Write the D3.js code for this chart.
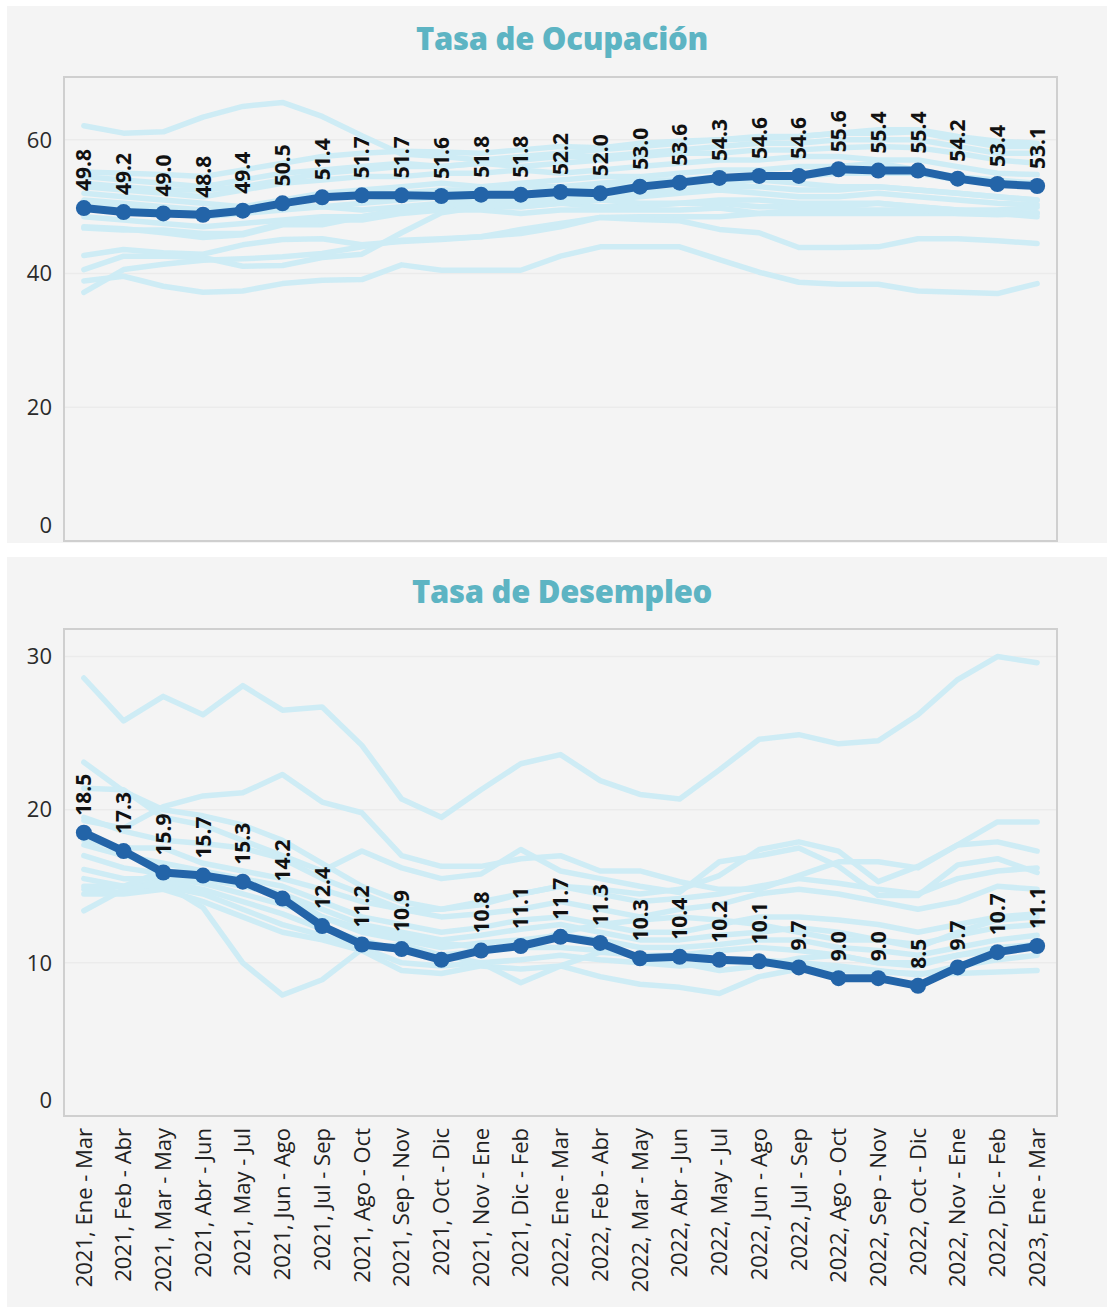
<!DOCTYPE html>
<html>
<head>
<meta charset="utf-8">
<script src="https://cdn.jsdelivr.net/npm/d3@7"></script>
<style>
  body { margin: 0; background: #fff; }
  svg { display: block; }
</style>
</head>
<body>
<div id="contents"></div>
<script>
const periods = [
  "2021, Ene - Mar", "2021, Feb - Abr", "2021, Mar - May", "2021, Abr - Jun",
  "2021, May - Jul", "2021, Jun - Ago", "2021, Jul - Sep", "2021, Ago - Oct",
  "2021, Sep - Nov", "2021, Oct - Dic", "2021, Nov - Ene", "2021, Dic - Feb",
  "2022, Ene - Mar", "2022, Feb - Abr", "2022, Mar - May", "2022, Abr - Jun",
  "2022, May - Jul", "2022, Jun - Ago", "2022, Jul - Sep", "2022, Ago - Oct",
  "2022, Sep - Nov", "2022, Oct - Dic", "2022, Nov - Ene", "2022, Dic - Feb",
  "2023, Ene - Mar"
];

// highlighted series
const ocupacion = [49.8, 49.2, 49.0, 48.8, 49.4, 50.5, 51.4, 51.7, 51.7, 51.6, 51.8, 51.8, 52.2,
  52.0, 53.0, 53.6, 54.3, 54.6, 54.6, 55.6, 55.4, 55.4, 54.2, 53.4, 53.1];
const desempleo = [18.5, 17.3, 15.9, 15.7, 15.3, 14.2, 12.4, 11.2, 10.9, 10.2, 10.8, 11.1, 11.7,
  11.3, 10.3, 10.4, 10.2, 10.1, 9.7, 9.0, 9.0, 8.5, 9.7, 10.7, 11.1];
// value labels (one is not shown in the original)
const desempleoLabels = ["18.5", "17.3", "15.9", "15.7", "15.3", "14.2", "12.4", "11.2", "10.9", "",
  "10.8", "11.1", "11.7", "11.3", "10.3", "10.4", "10.2", "10.1", "9.7", "9.0", "9.0", "8.5", "9.7", "10.7", "11.1"];

// background series (other areas)
const ocupacionOtros = [
  [62.1, 61.0, 61.2, 63.4, 65.0, 65.6, 63.5, 60.6, 57.9, 57.5, 57.0, 57.5, 58.0, 58.5, 59.0, 59.5, 60.0, 60.5, 60.5, 61.0, 61.5, 61.5, 60.5, 59.8, 59.5],
  [55.2, 55.0, 54.8, 54.5, 55.5, 56.5, 57.5, 58.0, 58.3, 58.2, 58.0, 58.5, 59.0, 58.8, 59.5, 59.8, 60.0, 60.2, 60.5, 61.0, 61.0, 61.2, 60.0, 59.0, 59.0],
  [54.5, 54.0, 53.5, 53.0, 54.0, 55.0, 55.5, 56.0, 56.5, 56.0, 56.5, 56.0, 56.5, 57.0, 57.5, 58.0, 58.0, 58.5, 58.5, 58.8, 59.0, 58.8, 58.0, 57.0, 56.5],
  [53.5, 53.0, 52.5, 52.5, 53.0, 54.0, 55.0, 55.5, 56.0, 56.0, 56.5, 57.0, 57.5, 57.5, 58.0, 58.5, 59.0, 59.5, 59.5, 60.0, 60.0, 60.0, 59.0, 58.0, 58.0],
  [53.0, 52.5, 52.0, 51.5, 52.5, 53.5, 54.0, 54.5, 54.5, 55.0, 55.0, 55.5, 55.0, 55.5, 56.0, 56.5, 57.0, 57.0, 57.5, 57.5, 57.0, 57.0, 56.0, 55.0, 54.8],
  [52.0, 51.5, 51.0, 50.5, 50.0, 51.0, 52.0, 52.5, 53.0, 53.5, 53.0, 53.5, 54.0, 54.5, 54.5, 55.0, 55.5, 55.5, 56.0, 56.0, 56.5, 55.5, 54.5, 54.0, 53.5],
  [51.0, 50.5, 50.0, 49.5, 50.0, 50.5, 50.0, 50.5, 51.0, 51.5, 52.0, 52.0, 52.5, 53.0, 53.0, 53.5, 53.5, 54.0, 53.5, 53.0, 53.0, 52.5, 52.0, 51.5, 51.0],
  [50.5, 50.0, 49.0, 48.5, 49.0, 49.5, 50.0, 49.5, 50.0, 50.5, 51.0, 51.0, 51.5, 51.0, 51.5, 52.0, 52.5, 52.0, 51.5, 51.5, 52.0, 51.5, 51.0, 50.5, 50.3],
  [50.0, 49.5, 49.5, 49.0, 49.5, 50.5, 51.5, 52.0, 52.0, 52.5, 52.5, 53.0, 53.0, 53.5, 54.0, 54.0, 54.5, 54.5, 54.5, 55.0, 55.0, 55.0, 54.0, 53.5, 53.0],
  [48.5, 48.0, 47.5, 47.0, 47.5, 48.0, 48.5, 48.5, 49.5, 50.0, 50.5, 50.0, 50.5, 50.0, 50.0, 50.5, 50.5, 50.0, 50.0, 50.0, 50.5, 50.0, 49.5, 49.5, 49.9],
  [47.0, 46.7, 46.1, 45.4, 45.8, 47.3, 47.3, 48.5, 49.5, 49.5, 50.0, 50.0, 50.5, 51.0, 50.5, 50.5, 51.0, 51.0, 50.5, 50.5, 50.5, 50.0, 49.5, 49.0, 48.5],
  [46.8, 46.5, 46.5, 46.0, 46.0, 47.5, 48.0, 48.0, 49.0, 49.5, 49.5, 49.0, 49.5, 49.5, 49.5, 49.5, 49.8, 49.0, 49.0, 49.0, 49.0, 49.0, 49.0, 49.0, 49.1],
  [42.7, 43.6, 43.1, 42.9, 44.3, 45.1, 45.2, 44.3, 44.8, 45.1, 45.5, 46.6, 47.5, 48.4, 48.5, 48.5, 48.5, 49.0, 49.5, 49.5, 49.5, 49.5, 49.0, 48.8, 49.0],
  [40.6, 42.6, 42.6, 42.4, 41.1, 41.2, 42.4, 42.9, 46.1, 49.1, 50.0, 50.5, 51.0, 52.0, 52.0, 52.5, 53.0, 53.0, 52.5, 52.5, 53.0, 52.5, 52.0, 51.5, 51.0],
  [37.2, 40.6, 41.4, 42.0, 42.2, 42.5, 43.0, 44.0, 45.0, 45.2, 45.5, 46.0, 47.0, 48.4, 48.1, 47.9, 46.6, 46.1, 43.9, 43.9, 44.0, 45.2, 45.2, 44.9, 44.5],
  [38.9, 39.6, 38.1, 37.2, 37.4, 38.5, 39.0, 39.1, 41.3, 40.5, 40.5, 40.5, 42.6, 44.0, 44.0, 44.0, 42.1, 40.2, 38.7, 38.4, 38.4, 37.4, 37.2, 37.0, 38.5]
];

const desempleoOtros = [
  [28.6, 25.8, 27.4, 26.2, 28.1, 26.5, 26.7, 24.2, 20.7, 19.5, 21.3, 23.0, 23.6, 21.9, 21.0, 20.7, 22.6, 24.6, 24.9, 24.3, 24.5, 26.2, 28.5, 30.0, 29.6],
  [23.1, 21.2, 20.0, 19.6, 19.0, 18.0, 16.5, 15.0, 14.0, 13.5, 13.8, 14.5, 15.0, 14.8, 14.5, 14.8, 15.7, 17.4, 17.9, 17.3, 15.3, 16.3, 17.7, 19.2, 19.2],
  [19.3, 18.8, 20.2, 20.9, 21.1, 22.3, 20.5, 19.8, 17.0, 16.3, 16.3, 16.8, 17.0, 16.0, 16.0, 15.3, 14.8, 14.8, 15.7, 16.6, 16.6, 16.2, 17.7, 17.9, 17.3],
  [21.4, 21.3, 19.5, 19.0, 18.0, 17.0, 16.0, 17.3, 16.2, 15.5, 15.8, 17.4, 16.0, 15.5, 15.0, 14.6, 16.6, 17.0, 17.5, 16.3, 14.4, 14.4, 16.4, 16.8, 15.9],
  [19.5, 18.6, 18.0, 17.8, 17.5, 16.8, 15.5, 14.5, 13.5, 13.0, 13.2, 13.5, 14.0, 13.5, 13.0, 13.5, 13.8, 14.5, 14.8, 14.5, 14.0, 13.5, 14.0, 15.0, 14.8],
  [18.0, 17.5, 17.5, 16.5, 16.0, 15.5, 14.8, 14.0, 13.5, 13.5, 14.0, 14.5, 15.0, 14.5, 14.0, 14.2, 14.5, 15.0, 15.5, 15.2, 14.8, 14.5, 15.5, 16.0, 16.2],
  [17.7, 17.0, 16.5, 16.0, 15.5, 15.0, 14.0, 13.0, 12.5, 12.0, 12.3, 12.8, 13.0, 12.5, 12.0, 12.0, 12.5, 13.0, 13.0, 12.8, 12.5, 12.0, 12.5, 13.0, 13.2],
  [17.0, 16.2, 15.8, 15.5, 15.0, 14.5, 13.5, 12.5, 12.0, 11.5, 11.8, 12.2, 12.5, 12.0, 11.5, 11.5, 11.8, 12.0, 12.3, 12.0, 11.5, 11.2, 11.8, 12.3, 12.5],
  [16.1, 15.5, 15.5, 15.2, 14.5, 13.8, 13.0, 12.0, 11.5, 11.0, 11.3, 11.5, 11.8, 11.5, 11.0, 11.0, 11.2, 11.5, 11.5, 11.0, 10.8, 10.5, 11.0, 11.5, 11.8],
  [15.5, 15.0, 15.3, 14.8, 14.0, 13.2, 12.2, 11.5, 10.8, 10.5, 10.8, 11.0, 11.0, 10.8, 10.5, 10.5, 10.8, 11.0, 10.8, 10.5, 10.0, 10.0, 10.5, 11.0, 11.2],
  [15.0, 15.0, 16.0, 15.8, 15.2, 14.5, 13.0, 12.2, 11.8, 11.3, 11.0, 11.0, 12.0, 12.5, 12.8, 13.0, 12.8, 12.5, 12.0, 11.5, 11.5, 11.0, 12.0, 12.8, 13.0],
  [14.8, 14.6, 15.0, 14.5, 13.5, 12.5, 11.8, 11.0, 10.0, 9.8, 10.0, 10.2, 10.5, 10.2, 10.0, 9.8, 10.0, 10.2, 10.0, 9.8, 9.5, 9.2, 9.8, 10.2, 10.5],
  [14.5, 14.5, 14.8, 14.0, 13.0, 12.0, 11.5, 10.8, 9.5, 9.3, 9.8, 9.6, 9.8, 9.1, 8.6, 8.4, 8.0, 9.1, 9.6, 9.5, 9.4, 9.3, 9.3, 9.4, 9.5],
  [13.4, 14.8, 15.2, 13.6, 10.0, 7.9, 8.9, 10.9, 11.2, 10.5, 10.0, 8.7, 9.8, 10.7, 10.5, 10.0, 9.5, 9.8, 10.3, 10.5, 10.0, 9.8, 10.5, 10.8, 11.0]
];

const ocupacionTicks = [0, 20, 40, 60];
const desempleoTicks = [0, 10, 20, 30];

const W = 1107, H = 1307;
const plotLeft = 64, plotRight = 1057;

const svg = d3.select("#contents").append("svg")
    .attr("width", W)
    .attr("height", H);

const x = d3.scalePoint()
    .domain(periods)
    .range([plotLeft, plotRight])
    .padding(0.5);

function drawPanel(cfg) {
    const g = svg.append("g");

    g.append("rect")
        .attr("x", 7).attr("y", cfg.panelTop)
        .attr("width", W - 7).attr("height", cfg.panelBottom - cfg.panelTop)
        .attr("fill", "#f4f4f4");

    g.append("text")
        .attr("x", 562).attr("y", cfg.titleY)
        .attr("text-anchor", "middle")
        .style("font-family", "'Open Sans', sans-serif")
        .style("font-weight", 800)
        .style("font-size", "31px")
        .style("letter-spacing", "-0.3px")
        .style("fill", "#5db4c3")
        .text(cfg.title);

    const y = d3.scaleLinear()
        .domain([0, cfg.yMax])
        .range([cfg.plotBottom, cfg.plotTop]);

    // grid
    g.selectAll("line.grid").data(cfg.ticks.filter(d => d > 0)).join("line")
        .attr("class", "grid")
        .attr("x1", plotLeft).attr("x2", plotRight)
        .attr("y1", d => y(d)).attr("y2", d => y(d))
        .attr("stroke", "#ebebeb").attr("stroke-width", 1.5);

    // y tick labels
    g.selectAll("text.ytick").data(cfg.ticks).join("text")
        .attr("class", "ytick")
        .attr("x", 52)
        .attr("y", d => d === 0 ? y(d) - 16 : y(d))
        .attr("dy", "0.35em")
        .attr("text-anchor", "end")
        .style("font-family", "'Open Sans', sans-serif")
        .style("font-size", "22px")
        .style("fill", "#2a2a2a")
        .text(d => d);

    // frame
    g.append("rect")
        .attr("x", plotLeft).attr("y", cfg.plotTop)
        .attr("width", plotRight - plotLeft).attr("height", cfg.plotBottom - cfg.plotTop)
        .attr("fill", "none")
        .attr("stroke", "#cfcfcf").attr("stroke-width", 2);

    const line = d3.line()
        .x((d, i) => x(periods[i]))
        .y(d => y(d));

    g.selectAll("path.other").data(cfg.others).join("path")
        .attr("class", "other")
        .attr("d", line)
        .attr("fill", "none")
        .attr("stroke", "#ceecf5")
        .attr("stroke-width", 5.5)
        .attr("stroke-linejoin", "round")
        .attr("stroke-linecap", "round");

    g.append("path")
        .datum(cfg.main)
        .attr("d", line)
        .attr("fill", "none")
        .attr("stroke", "#2364a8")
        .attr("stroke-width", 8)
        .attr("stroke-linejoin", "round");

    g.selectAll("circle.pt").data(cfg.main).join("circle")
        .attr("class", "pt")
        .attr("cx", (d, i) => x(periods[i]))
        .attr("cy", d => y(d))
        .attr("r", 8)
        .attr("fill", "#2364a8");

    g.selectAll("text.lbl").data(cfg.main).join("text")
        .attr("class", "lbl")
        .attr("transform", (d, i) => "translate(" + x(periods[i]) + "," + (y(d) - 17) + ") rotate(-90)")
        .attr("dy", "0.36em")
        .attr("text-anchor", "start")
        .style("font-family", "'Open Sans', sans-serif")
        .style("font-weight", 700)
        .style("font-size", "21px")
        .style("fill", "#111")
        .text((d, i) => cfg.labels ? cfg.labels[i] : d.toFixed(1));

    return y;
}

drawPanel({
    panelTop: 6, panelBottom: 543, titleY: 50,
    title: "Tasa de Ocupación",
    plotTop: 77, plotBottom: 541, yMax: 69.4,
    ticks: ocupacionTicks,
    main: ocupacion, others: ocupacionOtros
});

drawPanel({
    panelTop: 557, panelBottom: H, titleY: 603,
    title: "Tasa de Desempleo",
    plotTop: 629, plotBottom: 1116, yMax: 31.8,
    ticks: desempleoTicks,
    main: desempleo, others: desempleoOtros, labels: desempleoLabels
});

// x axis labels (bottom panel only)
svg.append("g").selectAll("text").data(periods).join("text")
    .attr("transform", d => "translate(" + x(d) + ",1128) rotate(-90)")
    .attr("dy", "0.35em")
    .attr("text-anchor", "end")
    .style("font-family", "'Open Sans', sans-serif")
    .style("font-size", "22px")
    .style("fill", "#222")
    .text(d => d);
</script>
</body>
</html>
